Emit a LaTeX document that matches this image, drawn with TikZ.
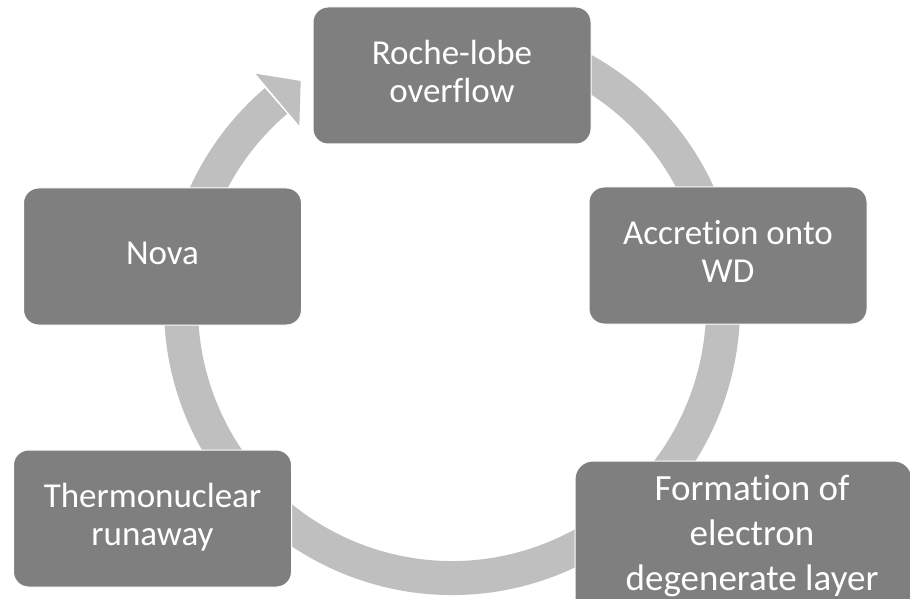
\documentclass[tikz,border=0pt]{standalone}
\usepackage{fontspec}
\setmainfont{Carlito}[Ligatures={NoCommon}]
\usetikzlibrary{calc}
\definecolor{boxgray}{HTML}{7F7F7F}
\definecolor{ringgray}{HTML}{BFBFBF}
\begin{document}
\begin{tikzpicture}[x=1pt,y=1pt,
  stagebox/.style={fill=boxgray, draw=white, line width=1pt, rounded corners=15pt,
    minimum width=278pt, minimum height=137pt, inner sep=0pt, text=white,
    align=center, font=\fontsize{35}{38}\selectfont},
  bigbox/.style={fill=boxgray, draw=white, line width=1pt, rounded corners=18pt,
    minimum width=337pt, minimum height=165pt, inner sep=0pt},
  bigtext/.style={text=white, align=center, font=\fontsize{37}{45}\selectfont, inner sep=0pt},
  ring/.style={draw=ringgray, line width=34pt}]
\useasboundingbox[fill=white] (0,0) rectangle (910,598);
\clip (0,0) rectangle (910,598);
\coordinate (c) at (452,291);
\draw[ring] ($(c)+(112:271)$) arc[start angle=112, end angle=-229.5, radius=271];
\fill[ringgray] ($(c)+(130.1:305)$) -- ($(c)+(123.8:272)$) -- ($(c)+(130.1:237)$) -- cycle;
\node[stagebox] (roche) at (452,522.5) {\strut Roche-lobe\\\strut overflow};
\node[stagebox] (accr) at (728,342.5) {\strut Accretion onto\\\strut WD};
\node[bigbox] (form) at (743.5,54.5) {};
\node[bigtext] (formtext) at (752,62) {\strut Formation of\\\strut electron\\\strut degenerate layer};
\node[stagebox] (thermo) at (152.5,79.5) {\strut Thermonuclear\\\strut runaway};
\node[stagebox] (nova) at (162.5,341.5) {\strut Nova};
\end{tikzpicture}
\end{document}
